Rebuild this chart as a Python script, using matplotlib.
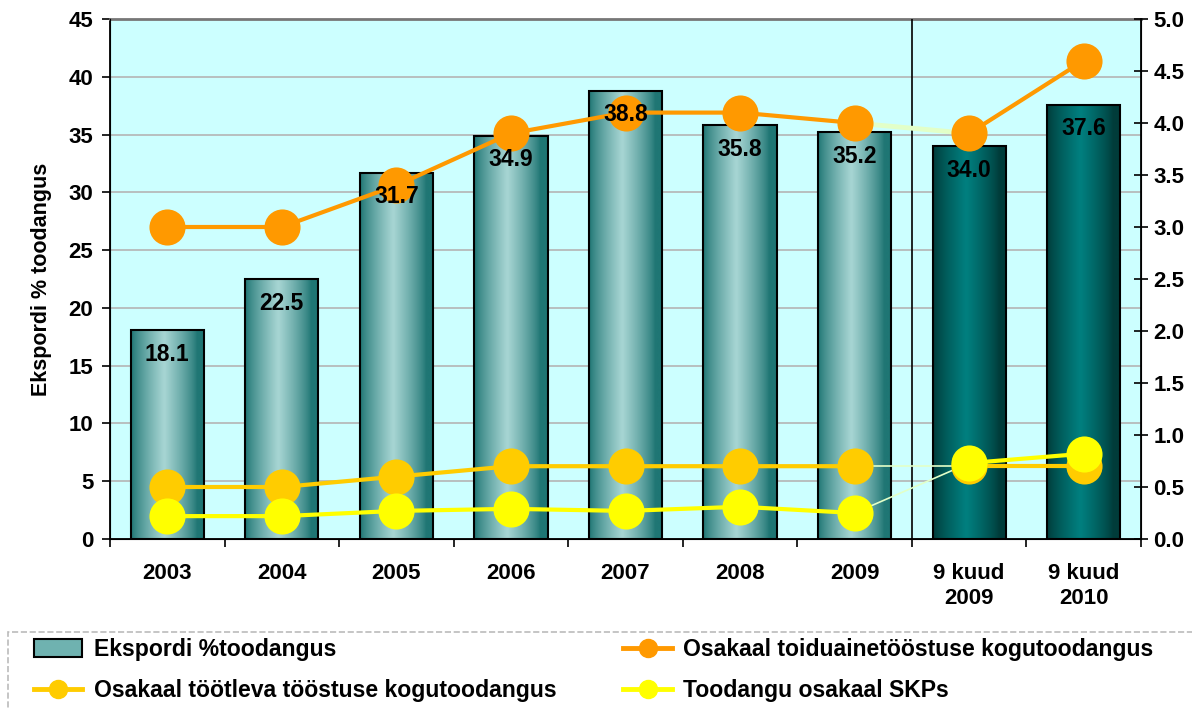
import numpy as np
import matplotlib
matplotlib.use("Agg")
import matplotlib.pyplot as plt
from matplotlib.lines import Line2D
from matplotlib.patches import Patch, Rectangle

plt.rcParams['font.family'] = ['Liberation Sans', 'DejaVu Sans']
plt.rcParams['font.weight'] = 'bold'

categories = ["2003", "2004", "2005", "2006", "2007", "2008", "2009", "9 kuud\n2009", "9 kuud\n2010"]
eksport = [18.1, 22.5, 31.7, 34.9, 38.8, 35.8, 35.2, 34.0, 37.6]
toiduaine = [3.0, 3.0, 3.4, 3.9, 4.1, 4.1, 4.0, 3.9, 4.6]
tootleva = [0.5, 0.5, 0.6, 0.7, 0.7, 0.7, 0.7, 0.7, 0.7]
skp = [0.22, 0.22, 0.27, 0.29, 0.27, 0.31, 0.25, 0.73, 0.82]
n_year = 7  # first 7 are full years, the last 2 are 9-month values

legend_labels = ["Ekspordi %toodangus", "Osakaal toiduainetööstuse kogutoodangus",
                 "Osakaal töötleva tööstuse kogutoodangus", "Toodangu osakaal SKPs"]

c_orange = "#ff9900"
c_gold = "#ffcc00"
c_yellow = "#ffff00"
c_link = "#e2ffc8"
fs = 16


def gradient(edge, mid, n=60):
    t = np.linspace(0, 1, n)
    w = np.clip(1 - np.abs(t - 0.45) / 0.45, 0, 1) ** 0.8
    edge = np.array(matplotlib.colors.to_rgb(edge))
    mid = np.array(matplotlib.colors.to_rgb(mid))
    return (edge[None, :] * (1 - w[:, None]) + mid[None, :] * w[:, None])[None, :, :]


fig = plt.figure(figsize=(11.92, 7.08), dpi=100)
ax = fig.add_axes([110 / 1192, 1 - 539 / 708, 1031 / 1192, 520 / 708])
ax.set_facecolor("#ccffff")

x = np.arange(len(categories))
bw = 0.64
light = gradient("#1f7674", "#a8d6d4")
dark = gradient("#003c3a", "#008080")
for i, v in enumerate(eksport):
    img = light if i < n_year else dark
    ax.imshow(img, extent=[i - bw / 2, i + bw / 2, 0, v], aspect='auto', zorder=2,
              interpolation='bicubic')
ax.bar(x, eksport, width=bw, facecolor='none', edgecolor='black', linewidth=1.5, zorder=3)

ax.set_xlim(-0.5, len(categories) - 0.5)
ax.set_ylim(0, 45)
ax.set_yticks(np.arange(0, 46, 5))
ax.yaxis.grid(True, color="#b4b4b4", linewidth=1.2)
ax.set_axisbelow(True)
ax.axvline(n_year - 0.5, color="black", linewidth=1.2, zorder=3)

ax.set_xticks(x)
ax.set_xticklabels(categories, linespacing=1.3)
ax.set_xticks(np.arange(-0.5, len(categories), 1), minor=True)
ax.tick_params(axis='x', which='major', length=0, pad=17, labelsize=fs)
ax.tick_params(axis='x', which='minor', length=6, width=1.2, direction='out')
ax.tick_params(axis='y', length=6, width=1.2, labelsize=fs, direction='out', pad=6)
ax.set_ylabel("Ekspordi % toodangus", fontsize=15.5, fontweight='bold', labelpad=12)
ax.spines['top'].set_color("#777777")
ax.spines['top'].set_linewidth(2)
for s in ['left', 'bottom']:
    ax.spines[s].set_linewidth(1.3)

ax2 = ax.twinx()
ax2.set_ylim(0, 5)
ax2.set_yticks(np.arange(0, 5.01, 0.5))
ax2.set_yticklabels([f"{t:.1f}" for t in np.arange(0, 5.01, 0.5)])
ax2.tick_params(axis='y', length=10, width=1.2, labelsize=fs, direction='inout', pad=4)
ax2.spines['right'].set_linewidth(1.3)
ax2.spines['top'].set_visible(False)

ms = 26
for series in (skp, tootleva, toiduaine):
    lw = 3.5 if series is toiduaine else 1.2
    ax2.plot(x[n_year - 1:n_year + 1], series[n_year - 1:n_year + 1], color=c_link, linewidth=lw, zorder=1)

for series, col in [(tootleva, c_gold), (skp, c_yellow), (toiduaine, c_orange)]:
    ax2.plot(x[:n_year], series[:n_year], color=col, linewidth=3, marker='o', markersize=ms,
             markeredgewidth=0, zorder=3)
    ax2.plot(x[n_year:], series[n_year:], color=col, linewidth=3, marker='o', markersize=ms,
             markeredgewidth=0, zorder=3)

# bar labels sit above the lines
for i, v in enumerate(eksport):
    ax2.text(i, v - 2.1, f"{v:.1f}", ha='center', va='center', fontsize=16.5, fontweight='bold',
             zorder=5, transform=ax.transData)

handles = [
    Patch(facecolor="#6fb2b0", edgecolor="black", linewidth=1.5),
    Line2D([], [], color=c_gold, linewidth=3.5, marker='o', markersize=13),
    Line2D([], [], color=c_orange, linewidth=3.5, marker='o', markersize=13),
    Line2D([], [], color=c_yellow, linewidth=3.5, marker='o', markersize=13),
]
labs = [legend_labels[0], legend_labels[2], legend_labels[1], legend_labels[3]]
leg = fig.legend(handles, labs, ncol=2, loc='upper left',
                 bbox_to_anchor=(34 / 1192, 1 - 638 / 708),
                 frameon=False, handlelength=2.1, handleheight=0.8,
                 handletextpad=0.5, borderaxespad=0, borderpad=0, labelspacing=0.8,
                 columnspacing=2.9, prop={'weight': 'bold', 'size': 16.6})
fig.patches.append(Rectangle((8 / 1192, -0.1), 1.2, 0.1 + 76 / 708, transform=fig.transFigure,
                             facecolor='none', edgecolor="#bbbbbb", linestyle='--', linewidth=1.2))

fig.savefig("out.png", dpi=100)
